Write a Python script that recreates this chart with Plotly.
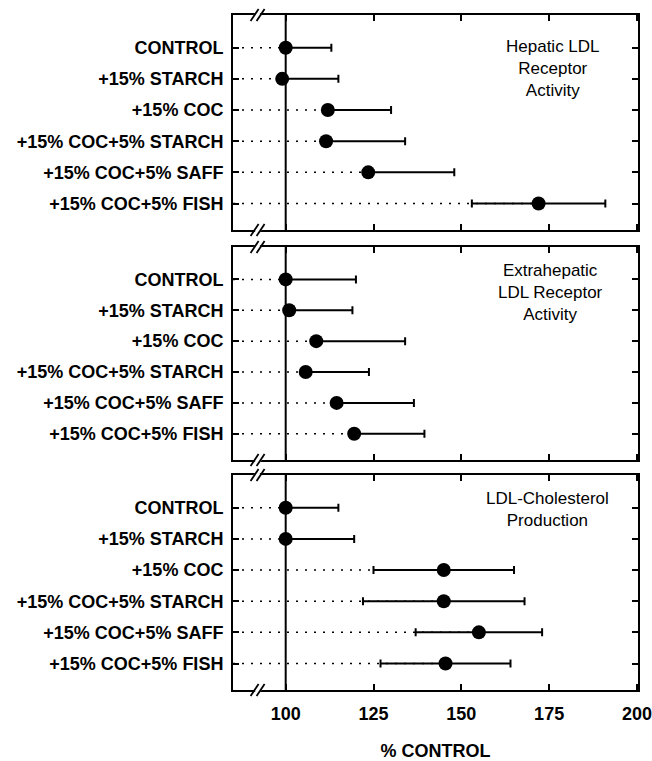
import plotly.graph_objects as go

categories = ["CONTROL", "+15% STARCH", "+15% COC", "+15% COC+5% STARCH",
              "+15% COC+5% SAFF", "+15% COC+5% FISH"]

hepatic_vals = [100, 99, 112, 111.5, 123.5, 172]
hepatic_err = [13, 16, 18, 22.5, 24.5, 19]

extra_vals = [100, 101, 108.7, 105.7, 114.5, 119.5]
extra_err = [20, 18, 25.3, 18, 22, 20]

prod_vals = [100, 100, 145, 145, 155, 145.5]
prod_err = [15, 19.5, 20, 23, 18, 18.5]

panel_titles = ["Hepatic LDL<br>Receptor<br>Activity",
                "Extrahepatic<br>LDL Receptor<br>Activity",
                "LDL-Cholesterol<br>Production"]

x_ticks = [100, 125, 150, 175, 200]
x_range = [85, 200.3]
ref_value = 100

FONT = "Liberation Sans, Arial, sans-serif"

panels = [(hepatic_vals, hepatic_err), (extra_vals, extra_err), (prod_vals, prod_err)]
domains = [[0.6815, 1.0], [0.3407, 0.6563], [0.0, 0.3185]]

fig = go.Figure()
ypos = list(range(len(categories)))

for i, (vals, errs) in enumerate(panels):
    xa = "x" if i == 0 else f"x{i+1}"
    ya = "y" if i == 0 else f"y{i+1}"
    # dotted leader lines from left edge to each point
    lx, ly = [], []
    for v, y in zip(vals, ypos):
        lx += [x_range[0], v, None]
        ly += [y, y, None]
    fig.add_trace(go.Scatter(x=lx, y=ly, mode="lines", xaxis=xa, yaxis=ya,
                             line=dict(color="black", width=1.5, dash="2px,7px"),
                             hoverinfo="skip", showlegend=False))
    minus = [e if v - e > ref_value else 0 for v, e in zip(vals, errs)]
    fig.add_trace(go.Scatter(
        x=vals, y=ypos, mode="markers", xaxis=xa, yaxis=ya, showlegend=False,
        marker=dict(color="black", size=14),
        error_x=dict(type="data", symmetric=False, array=errs, arrayminus=minus,
                     color="black", thickness=2, width=4),
    ))

layout = dict(
    width=652, height=761,
    paper_bgcolor="white", plot_bgcolor="white",
    margin=dict(l=233, r=14, t=15, b=71, autoexpand=False),
    font=dict(family=FONT, color="black", size=18),
    showlegend=False,
)

for i in range(3):
    xk = "xaxis" if i == 0 else f"xaxis{i+1}"
    yk = "yaxis" if i == 0 else f"yaxis{i+1}"
    ya = "y" if i == 0 else f"y{i+1}"
    xa = "x" if i == 0 else f"x{i+1}"
    layout[xk] = dict(
        anchor=ya, domain=[0, 1], range=x_range, tickvals=x_ticks,
        ticks="inside", ticklen=6, tickwidth=2, tickcolor="black",
        showline=True, linewidth=2, linecolor="black", mirror="ticks",
        showgrid=False, zeroline=False, fixedrange=True, automargin=False,
        showticklabels=(i == 2),
        tickfont=dict(family=FONT, size=18, weight="bold"),
    )
    if i == 2:
        layout[xk]["title"] = dict(text="% CONTROL", standoff=30,
                                   font=dict(family=FONT, size=18, weight="bold"))
        layout[xk]["ticklabelstandoff"] = 6
    layout[yk] = dict(
        anchor=xa, domain=domains[i], range=[5.85, -1.05],
        tickvals=ypos, ticktext=categories,
        ticks="inside", ticklen=6, tickwidth=2, tickcolor="black",
        showline=True, linewidth=2, linecolor="black", mirror="ticks",
        showgrid=False, zeroline=False, fixedrange=True, automargin=False,
        tickfont=dict(family=FONT, size=18, weight="bold"),
        ticklabelstandoff=4,
    )

fig.update_layout(**layout)

shapes = []
annotations = []
for i in range(3):
    xa = "x" if i == 0 else f"x{i+1}"
    yd = ("y" if i == 0 else f"y{i+1}") + " domain"
    # vertical reference line at 100
    shapes.append(dict(type="line", xref=xa, yref=yd, x0=ref_value, x1=ref_value,
                       y0=0, y1=1, line=dict(color="black", width=2)))
    # axis break marks "//" on top and bottom edges
    for yy in (0, 1):
        shapes.append(dict(type="line", xref=xa, yref=yd, xsizemode="pixel",
                           ysizemode="pixel", xanchor=92.0, yanchor=yy,
                           x0=-2, x1=2, y0=-2, y1=2,
                           line=dict(color="white", width=6)))
        for off in (-3, 3):
            shapes.append(dict(type="line", xref=xa, yref=yd, xsizemode="pixel",
                               ysizemode="pixel", xanchor=92.0, yanchor=yy,
                               x0=off - 4, x1=off + 4, y0=-6, y1=6,
                               line=dict(color="black", width=1.8)))

# panel titles (pixel positions converted to paper coords)
title_pos = [(553, 68), (550, 293), (547, 509)]
for txt, (xp, yp) in zip(panel_titles, title_pos):
    annotations.append(dict(
        text=txt, xref="paper", yref="paper",
        x=(xp - 233) / 405, y=(690 - yp) / 675,
        xanchor="center", yanchor="middle", showarrow=False, align="center",
        font=dict(family=FONT, size=17, color="black"),
    ))

fig.update_layout(shapes=shapes, annotations=annotations)
fig.write_html(
    "out.html",
    config={"displayModeBar": False, "staticPlot": True},
    post_script="document.body.style.margin='0px';document.body.style.overflow='hidden';",
)
